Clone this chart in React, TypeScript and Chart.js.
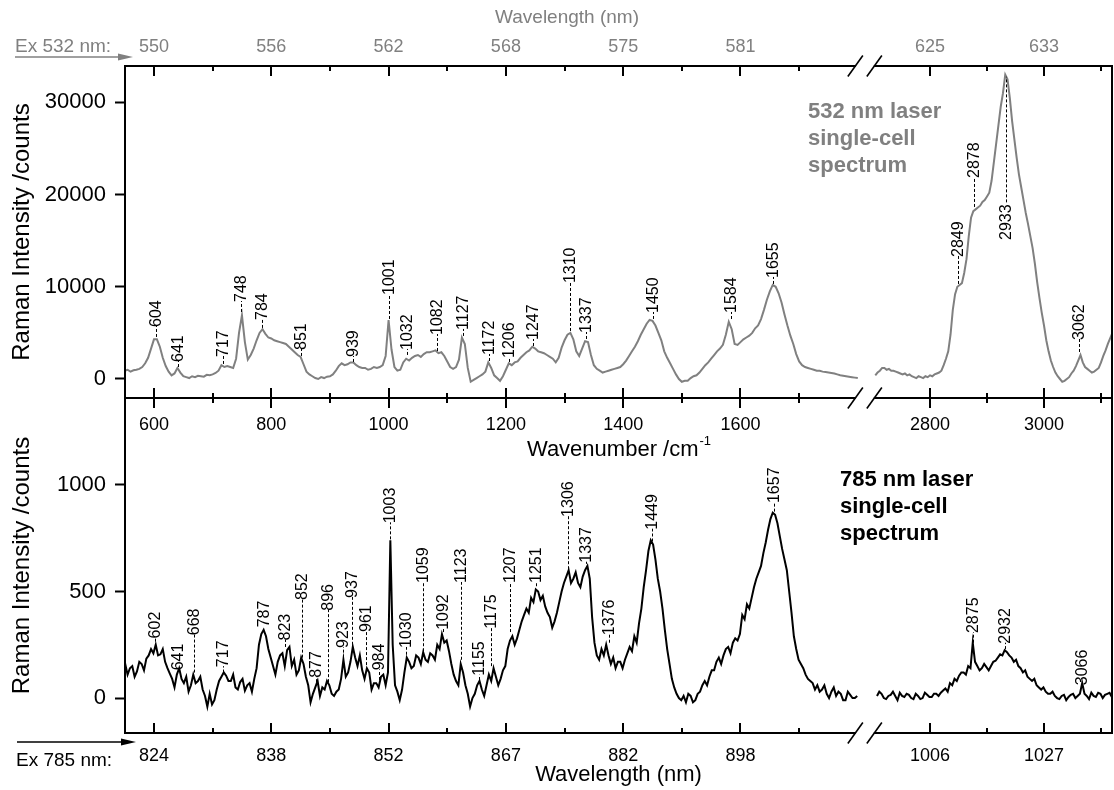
import React, { useEffect, useRef } from 'react';
import { Chart, registerables } from 'chart.js';

Chart.register(...registerables);

const FONT = '"Liberation Sans", Arial, Helvetica, sans-serif';
const GRAY = '#808080';

// ---- axis ticks (wavenumber positions, cm-1) ----
const WN_MAJOR = [600, 800, 1000, 1200, 1400, 1600, 2800, 3000];
const WN_MINOR = [700, 900, 1100, 1300, 1500, 1700, 2900, 3100];
const WL_532_LABELS = ['550', '556', '562', '568', '575', '581', '625', '633'];
const WL_785_LABELS = ['824', '838', '852', '867', '882', '898', '1006', '1027'];
const TOP_Y_TICKS = [0, 10000, 20000, 30000];
const BOT_Y_TICKS = [0, 500, 1000];

const TOP_Y_MIN = -2061;
const TOP_Y_MAX = 33948;
const BOT_Y_MIN = -164;
const BOT_Y_MAX = 1408;

// ---- broken wavenumber axis ----
const U_MIN = 550.6;
const U_MAX = 2233.4;
const BREAK_U = 1812;
const RIGHT_ORIGIN_WN = 2800;
const RIGHT_ORIGIN_U = 1923.1;
const RIGHT_FACTOR = 0.9719;
function toU(wn: number): number {
  return wn < 2200 ? wn : RIGHT_ORIGIN_U + (wn - RIGHT_ORIGIN_WN) * RIGHT_FACTOR;
}

// ---- 532 nm spectrum ----
const TOP_L_START = 550;
const TOP_L_STEP = 5;
const TOP_L = [
  900, 1000, 800, 950, 1000, 1100, 1300, 1700, 2300, 3300,
  4300, 4300, 3500, 2300, 1400, 800, 400, 600, 1200, 700,
  300, 200, 100, 300, 200, 350, 300, 250, 450, 400,
  500, 650, 900, 1500, 1300, 1400, 1300, 1200, 2200, 5000,
  6900, 4000, 2100, 2600, 3300, 4200, 5000, 5400, 4900, 4500,
  4400, 4200, 4100, 4000, 3900, 3800, 3500, 3200, 2900, 2600,
  2400, 1600, 800, 500, 300, 100, 0, 200, 100, 250,
  300, 500, 900, 1400, 1700, 1500, 1600, 1800, 1800, 1500,
  1300, 1200, 1200, 1000, 1100, 1300, 1200, 1300, 1500, 2500,
  6400, 3200, 1300, 900, 1000, 1800, 2200, 2000, 2300, 2500,
  2600, 2400, 2700, 2900, 2900, 3000, 3100, 2800, 2900, 2500,
  1900, 1300, 1100, 1300, 2100, 4500, 3800, 1200, -300, -100,
  100, 300, 500, 800, 1800, 1200, 400, 100, -200, 300,
  1000, 1700, 1500, 1800, 1900, 2300, 2600, 2900, 3100, 3500,
  3300, 3000, 2900, 2800, 2600, 2400, 2200, 1800, 2300, 3400,
  4200, 4800, 5000, 4300, 3000, 2500, 3300, 4100, 4000, 2600,
  1500, 1100, 900, 700, 800, 900, 1000, 1100, 1200, 1300,
  1600, 2000, 2500, 3000, 3500, 4100, 4800, 5400, 6000, 6400,
  6300, 5800, 5000, 4200, 3000, 2300, 1700, 1100, 500, 0,
  -300, -200, -200, 100, 300, 400, 700, 1100, 1500, 1800,
  2200, 2600, 3000, 3300, 3700, 4800, 6200, 5400, 3800, 3700,
  4000, 4300, 4500, 4700, 5000, 5500, 5800, 6500, 7500, 8600,
  9500, 10200, 10000, 9300, 8300, 7000, 5800, 4700, 3800, 2700,
  1900, 1500, 1300, 1200, 1100, 1000, 900, 900, 800, 750,
  700, 650, 600, 500, 400, 350, 300, 250, 200, 150,
  100,
];
const TOP_R_START = 2704;
const TOP_R_STEP = 4;
const TOP_R = [
  400, 700, 900, 1200, 1200, 1000, 1100, 900, 900, 800,
  700, 600, 500, 600, 400, 500, 300, 200, 100, 300,
  200, 100, 300, 200, 400, 300, 500, 600, 700, 900,
  1500, 2200, 3000, 4800, 7500, 9200, 10000, 10200, 10400, 11500,
  13000, 15500, 17500, 18200, 18400, 18600, 18800, 19200, 19400, 19800,
  20200, 21500, 23500, 25500, 27500, 29500, 31000, 33000, 32500, 30500,
  28000, 26000, 24000, 22200, 20800, 19400, 18000, 16800, 15500, 14200,
  12500, 10500, 8800, 7200, 5800, 4200, 3000, 2000, 1300, 700,
  300, 0, -300, -200, 0, 200, 600, 900, 1400, 2000,
  2600, 1800, 1300, 1100, 900, 700, 800, 1000, 1200, 1800,
  2500, 3100, 3800, 4400, 5000,
];

// ---- 785 nm spectrum ----
const BOT_L_START = 547;
const BOT_L_STEP = 4;
const BOT_L = [
  130, 160, 110, 140, 150, 100, 125, 170, 160, 130,
  185, 200, 230, 210, 250, 200, 205, 230, 170, 140,
  115, 90, 50, 110, 140, 90, 70, 100, 30, 60,
  110, 70, 80, 100, 40, 10, -40, 20, -30, -10,
  40, 80, 100, 120, 105, 80, 80, 110, 50, 40,
  75, 90, 35, 60, 70, 30, 90, 140, 250, 300,
  320, 290, 230, 190, 150, 110, 170, 200, 210, 150,
  225, 240, 150, 180, 110, 130, 190, 160, 100, 60,
  -20, 20, 50, 80, 10, 50, 40, 80, 60, 20,
  10, 30, 40, 90, 180, 100, 120, 170, 240, 190,
  150, 200, 130, 90, 140, 120, 40, 70, 70, 50,
  100, 110, 60, 120, 740, 250, 60, 30, -10, 40,
  120, 190, 170, 140, 150, 200, 190, 160, 215, 180,
  170, 210, 200, 180, 250, 230, 300, 260, 270, 220,
  160, 110, 80, 60, 160, 120, 60, 20, -40, 0,
  20, 60, 80, 40, 10, 60, 110, 80, 140, 100,
  60, 90, 130, 150, 230, 270, 290, 250, 280, 320,
  360, 390, 420, 400, 470, 450, 510, 500, 460, 480,
  430, 400, 380, 330, 360, 400, 450, 500, 540, 570,
  600, 540, 560, 590, 540, 520, 570, 600, 620, 560,
  380, 260, 200, 180, 230, 200, 250, 200, 160, 190,
  140, 170, 170, 140, 180, 210, 240, 220, 290, 260,
  350, 420, 520, 600, 690, 740, 720, 650, 560, 500,
  420, 320, 230, 160, 90, 50, 20, 0, -10, 10,
  -20, 20, 10, -20, -10, 20, 30, 60, 80, 60,
  100, 130, 130, 170, 190, 160, 200, 230, 240, 210,
  260, 280, 270, 300, 390, 370, 440, 420, 470, 520,
  560, 590, 620, 680, 730, 790, 840, 870, 860, 820,
  760, 700, 650, 600, 500, 400, 290, 230, 180, 160,
  140, 110, 90, 80, 70, 40, 60, 30, 40, 60,
  20, 0, 30, 50, 10, 30, 20, -10, -10, 30,
  15, 0, 0, 10,
];
const BOT_R_START = 2707;
const BOT_R_STEP = 4;
const BOT_R = [
  10, 30, 20, 0, -5, 10, 15, 30, 10, -10,
  25, 10, 5, 20, 15, 0, -5, 20, 10, -5,
  0, 25, 15, 5, 5, 20, 20, 10, 25, 35,
  45, 30, 70, 60, 90, 80, 105, 120, 120, 110,
  150, 140, 260, 170, 150, 130, 140, 160, 145, 130,
  150, 170, 175, 190, 205, 200, 225, 215, 200, 190,
  170, 180, 150, 140, 120, 130, 100, 90, 80, 90,
  60, 50, 40, 50, 30, 20, 20, 30, 10, 0,
  -5, 10, 15, -10, 5, 15, 20, 0, 10, 20,
  70, 20, 10, -5, 25, 10, 5, 25, 20, 0,
  15, 20, 25, 5, 10,
];

// ---- peak labels ----
const TOP_PEAK_WN = [604, 641, 717, 748, 784, 851, 939, 1001, 1032, 1082, 1127, 1172, 1206, 1247, 1310, 1337, 1450, 1584, 1655, 2849, 2878, 2933, 3062];
const TOP_PEAK_I = [4450, 1190, 1520, 7160, 5430, 2390, 1740, 6400, 2500, 2930, 4560, 1845, 1740, 3470, 5100, 4230, 6400, 6400, 10200, 10200, 18550, 33000, 2820];
const TOP_LABEL_I = [5640, 1845, 2390, 8350, 6400, 3150, 2390, 9110, 3150, 4770, 5320, 2600, 2280, 4230, 10400, 4990, 7160, 7160, 10960, 13240, 21800, 15080, 4230];

const BOT_PEAK_WN = [602, 641, 668, 717, 787, 823, 852, 877, 896, 923, 937, 961, 984, 1003, 1030, 1059, 1092, 1123, 1155, 1175, 1207, 1251, 1306, 1337, 1376, 1449, 1657, 2875, 2932, 3066];
const BOT_PEAK_I = [260, 120, 115, 115, 325, 235, 185, 70, 70, 185, 245, 150, 80, 740, 175, 215, 305, 175, 80, 145, 305, 520, 600, 625, 255, 730, 870, 255, 225, 45];
const BOT_LABEL_I = [280, 130, 295, 145, 332, 270, 460, 95, 410, 235, 470, 310, 130, 820, 235, 540, 320, 540, 105, 325, 540, 540, 850, 635, 295, 790, 915, 305, 255, 60];

const TOP_NOTE = ['532 nm laser', 'single-cell', 'spectrum'];
const BOT_NOTE = ['785 nm laser', 'single-cell', 'spectrum'];

function pts(start: number, step: number, vals: number[]) {
  return vals.map((v, i) => ({ x: toU(start + i * step), y: v }));
}

function drawPeakLabels(ctx: CanvasRenderingContext2D, xs: any, ys: any, wns: number[], peaks: number[], labs: number[]) {
  ctx.save();
  ctx.font = `16px ${FONT}`;
  ctx.fillStyle = '#000';
  ctx.strokeStyle = '#000';
  ctx.lineWidth = 1;
  ctx.textAlign = 'left';
  ctx.textBaseline = 'middle';
  for (let i = 0; i < wns.length; i++) {
    const x = Math.round(xs.getPixelForValue(toU(wns[i])));
    const yp = ys.getPixelForValue(peaks[i]);
    const yb = ys.getPixelForValue(labs[i]);
    const text = String(wns[i]);
    const w = ctx.measureText(text).width;
    let y0: number, y1: number;
    if (yb <= yp) {
      y0 = yp - 1;
      y1 = yb - 1;
    } else {
      y0 = yb - w - 2;
      y1 = yp + 2;
    }
    if (Math.abs(y0 - y1) > 2) {
      ctx.setLineDash([3, 2]);
      ctx.beginPath();
      ctx.moveTo(x + 0.5, y0);
      ctx.lineTo(x + 0.5, y1);
      ctx.stroke();
      ctx.setLineDash([]);
    }
    ctx.save();
    ctx.translate(x + 1, yb);
    ctx.rotate(-Math.PI / 2);
    ctx.fillText(text, 0, 0);
    ctx.restore();
  }
  ctx.restore();
}

const decor = {
  id: 'decor',
  afterDraw(chart: any) {
    const { ctx, chartArea: ca, scales } = chart;
    const xs = scales.xBot;
    const yT = scales.yTop;
    const yB = scales.yBot;
    const topY = ca.top;
    const midY = yT.bottom;
    const botY = ca.bottom;
    const bx = xs.getPixelForValue(BREAK_U);

    ctx.save();
    ctx.strokeStyle = '#000';
    ctx.lineWidth = 2;
    ctx.lineCap = 'butt';
    const hline = (y: number) => {
      ctx.beginPath();
      ctx.moveTo(ca.left - 1, y);
      ctx.lineTo(bx - 9, y);
      ctx.moveTo(bx + 9, y);
      ctx.lineTo(ca.right + 1, y);
      ctx.stroke();
    };
    hline(topY);
    hline(midY);
    hline(botY);
    ctx.beginPath();
    ctx.moveTo(ca.left, topY);
    ctx.lineTo(ca.left, botY);
    ctx.moveTo(ca.right, topY);
    ctx.lineTo(ca.right, botY);
    ctx.stroke();

    ctx.lineWidth = 1.6;
    for (const y of [topY, midY, botY]) {
      for (const cx of [bx - 9.5, bx + 9.5]) {
        ctx.beginPath();
        ctx.moveTo(cx - 7.5, y + 10.5);
        ctx.lineTo(cx + 7.5, y - 10.5);
        ctx.stroke();
      }
    }

    ctx.lineWidth = 2;
    const tick = (wn: number, len: number) => {
      const x = Math.round(xs.getPixelForValue(toU(wn)));
      ctx.beginPath();
      ctx.moveTo(x, topY);
      ctx.lineTo(x, topY + len);
      ctx.moveTo(x, midY - len);
      ctx.lineTo(x, midY + len);
      ctx.moveTo(x, botY - len);
      ctx.lineTo(x, botY);
      ctx.stroke();
    };
    WN_MAJOR.forEach((w) => tick(w, 10));
    WN_MINOR.forEach((w) => tick(w, 5));

    drawPeakLabels(ctx, xs, yT, TOP_PEAK_WN, TOP_PEAK_I, TOP_LABEL_I);
    drawPeakLabels(ctx, xs, yB, BOT_PEAK_WN, BOT_PEAK_I, BOT_LABEL_I);

    ctx.font = `bold 22px ${FONT}`;
    ctx.textAlign = 'left';
    ctx.textBaseline = 'alphabetic';
    ctx.fillStyle = GRAY;
    TOP_NOTE.forEach((t, i) => ctx.fillText(t, 808, 118 + i * 27));
    ctx.fillStyle = '#000';
    BOT_NOTE.forEach((t, i) => ctx.fillText(t, 840, 486 + i * 27));

    const cx = (ca.left + ca.right) / 2;
    ctx.textBaseline = 'middle';
    ctx.textAlign = 'center';
    ctx.fillStyle = GRAY;
    ctx.font = `19px ${FONT}`;
    ctx.fillText('Wavelength (nm)', 567, 18);
    ctx.fillStyle = '#000';
    ctx.font = `22px ${FONT}`;
    ctx.fillText('Wavelength (nm)', cx, 775);
    const main = 'Wavenumber /cm';
    const sup = '-1';
    ctx.font = `22px ${FONT}`;
    const wMain = ctx.measureText(main).width;
    ctx.font = `13px ${FONT}`;
    const wSup = ctx.measureText(sup).width;
    const x0 = cx - (wMain + wSup) / 2;
    ctx.textAlign = 'left';
    ctx.font = `22px ${FONT}`;
    ctx.fillText(main, x0, 450);
    ctx.font = `13px ${FONT}`;
    ctx.fillText(sup, x0 + wMain + 1, 441);

    const arrow = (x1: number, x2: number, y: number, color: string) => {
      ctx.strokeStyle = color;
      ctx.fillStyle = color;
      ctx.lineWidth = 1.5;
      ctx.beginPath();
      ctx.moveTo(x1, y);
      ctx.lineTo(x2 - 12, y);
      ctx.stroke();
      ctx.beginPath();
      ctx.moveTo(x2 - 15, y - 3.5);
      ctx.lineTo(x2, y);
      ctx.lineTo(x2 - 15, y + 3.5);
      ctx.closePath();
      ctx.fill();
    };
    arrow(15, 133, 57, GRAY);
    arrow(17, 136, 742, '#000');
    ctx.font = `19px ${FONT}`;
    ctx.textAlign = 'left';
    ctx.textBaseline = 'alphabetic';
    ctx.fillStyle = GRAY;
    ctx.fillText('Ex 532 nm:', 15, 52);
    ctx.fillStyle = '#000';
    ctx.fillText('Ex 785 nm:', 16, 766);
    ctx.restore();
  },
};

function xAxis(position: any, labels: string[], color: string, padding: number, height: number | null) {
  return {
    type: 'linear',
    position,
    min: U_MIN,
    max: U_MAX,
    grid: { display: false, drawTicks: false },
    border: { display: false },
    afterBuildTicks: (s: any) => {
      s.ticks = WN_MAJOR.map((w) => ({ value: toU(w) }));
    },
    afterFit: (s: any) => {
      if (height !== null) s.height = height;
    },
    ticks: {
      autoSkip: false,
      maxRotation: 0,
      minRotation: 0,
      padding,
      color,
      font: { size: 18, family: FONT },
      callback: (_v: any, i: number) => labels[i],
    },
  };
}

function yAxis(min: number, max: number, ticks: number[], weight: number, stackWeight: number) {
  return {
    type: 'linear',
    position: 'left',
    stack: 'panels',
    stackWeight,
    weight,
    min,
    max,
    afterBuildTicks: (s: any) => {
      s.ticks = ticks.map((v) => ({ value: v }));
    },
    afterFit: (s: any) => {
      s.width = 125;
    },
    grid: {
      display: true,
      drawOnChartArea: false,
      drawTicks: true,
      tickLength: 10,
      tickWidth: 2,
      tickColor: '#000',
      color: '#000',
    },
    border: { display: false },
    ticks: {
      padding: 9,
      color: '#000',
      font: { size: 22, family: FONT },
      callback: (v: any) => String(v),
    },
    title: {
      display: true,
      text: 'Raman Intensity /counts',
      color: '#000',
      font: { size: 24, family: FONT },
      padding: { top: 8, bottom: 0 },
    },
  };
}

export default function App() {
  const ref = useRef<HTMLCanvasElement | null>(null);
  useEffect(() => {
    if (!ref.current) return;
    const chart = new Chart(ref.current, {
      type: 'line',
      data: {
        datasets: [
          { data: pts(TOP_L_START, TOP_L_STEP, TOP_L), xAxisID: 'xBot', yAxisID: 'yTop', borderColor: GRAY, borderWidth: 2 },
          { data: pts(TOP_R_START, TOP_R_STEP, TOP_R), xAxisID: 'xBot', yAxisID: 'yTop', borderColor: GRAY, borderWidth: 2 },
          { data: pts(BOT_L_START, BOT_L_STEP, BOT_L), xAxisID: 'xBot', yAxisID: 'yBot', borderColor: '#000', borderWidth: 2 },
          { data: pts(BOT_R_START, BOT_R_STEP, BOT_R), xAxisID: 'xBot', yAxisID: 'yBot', borderColor: '#000', borderWidth: 2 },
        ] as any,
      },
      options: {
        animation: false,
        responsive: false,
        maintainAspectRatio: false,
        layout: { padding: { left: 0, right: 2, top: 0, bottom: 0 } },
        elements: { point: { radius: 0 }, line: { tension: 0 } },
        plugins: { legend: { display: false }, tooltip: { enabled: false } },
        scales: {
          yBot: yAxis(BOT_Y_MIN, BOT_Y_MAX, BOT_Y_TICKS, 0, 335),
          yTop: yAxis(TOP_Y_MIN, TOP_Y_MAX, TOP_Y_TICKS, 1, 332),
          xBot: xAxis('bottom', WL_785_LABELS, '#000', 12, 57),
          xTop: xAxis('top', WL_532_LABELS, GRAY, 8, 66),
          xMid: xAxis({ yTop: TOP_Y_MIN }, WN_MAJOR.map(String), '#000', 16, null),
        } as any,
      },
      plugins: [decor],
    });
    return () => chart.destroy();
  }, []);
  return (
    <div style={{ position: 'fixed', left: 0, top: 0, width: 1114, height: 790, background: '#fff' }}>
      <canvas ref={ref} width={1114} height={790} style={{ display: 'block' }} />
    </div>
  );
}
